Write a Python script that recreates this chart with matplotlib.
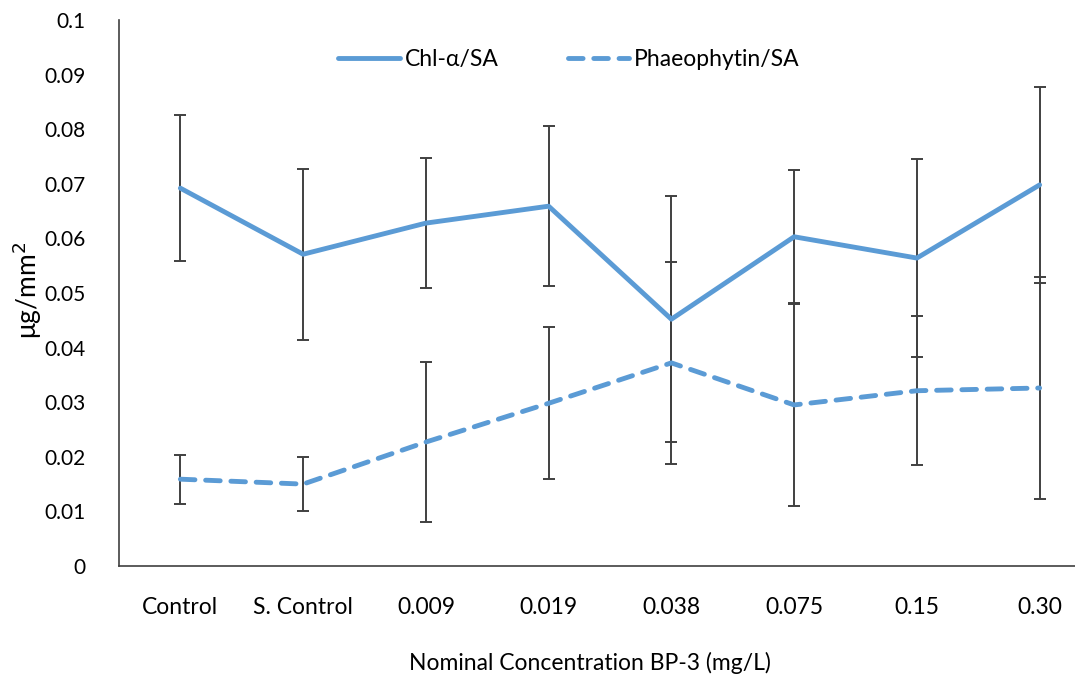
import numpy as np
import matplotlib
matplotlib.use('Agg')
from matplotlib import pyplot as plt

plt.rcParams['font.family'] = ['Lato', 'DejaVu Sans']

categories = ['Control', 'S. Control', '0.009', '0.019', '0.038', '0.075', '0.15', '0.30']

chl = [0.0692, 0.0571, 0.0628, 0.0659, 0.0452, 0.0603, 0.0564, 0.0698]
chl_err = [0.0134, 0.0157, 0.0119, 0.0147, 0.0225, 0.0123, 0.0182, 0.0180]

pheo = [0.0159, 0.0150, 0.0227, 0.0298, 0.0372, 0.0295, 0.0321, 0.0326]
pheo_err = [0.0045, 0.0050, 0.0147, 0.0139, 0.0185, 0.0186, 0.0136, 0.0203]

blue = '#5B9BD5'
x = np.arange(len(categories))

fig = plt.figure(figsize=(10.75, 6.8), dpi=100)
# axis runs past the right edge like the original crop
ax = fig.add_axes([119 / 1075, 114 / 680, 982 / 1075, 546 / 680])

ax.errorbar(x, chl, yerr=chl_err, fmt='none', ecolor='#404040', elinewidth=1.4,
            capsize=4, capthick=1.4, zorder=2)
ax.errorbar(x, pheo, yerr=pheo_err, fmt='none', ecolor='#404040', elinewidth=1.4,
            capsize=4, capthick=1.4, zorder=2)
ax.plot(x, chl, color=blue, lw=3.5, solid_capstyle='round', label='Chl-\u03b1/SA', zorder=3)
ax.plot(x, pheo, color=blue, lw=3.5, ls=(0, (3.0, 2.2)), dash_capstyle='round',
        label='Phaeophytin/SA', zorder=3)

ax.set_xlim(-0.5, 7.5)
ax.set_ylim(0, 0.1)
ax.set_yticks(np.arange(0, 0.101, 0.01))
ax.set_yticklabels(['0'] + ['%g' % v for v in np.arange(0.01, 0.101, 0.01)])
ax.set_xticks(x)
ax.set_xticklabels(categories)
ax.tick_params(axis='both', length=0, colors='black')
ax.tick_params(axis='x', pad=22, labelsize=16.5)
ax.tick_params(axis='y', pad=24, labelsize=15)

for s in ['top', 'right']:
    ax.spines[s].set_visible(False)
for s in ['left', 'bottom']:
    ax.spines[s].set_color('#404040')
    ax.spines[s].set_linewidth(1.2)

leg = ax.legend(loc='upper center', bbox_to_anchor=(450 / 982, 0.985), ncol=2, frameon=False,
                fontsize=16.5, handlelength=2.7, handletextpad=0.2, columnspacing=3.0)

fig.text(590 / 1075, 1 - 663 / 680, 'Nominal Concentration BP-3 (mg/L)', ha='center',
         va='center', fontsize=16.5)
fig.text(27 / 1075, 1 - 290 / 680, '\u03bcg/mm$^2$', rotation=90, ha='center',
         va='center', fontsize=19)

fig.savefig('out.png', dpi=100)
